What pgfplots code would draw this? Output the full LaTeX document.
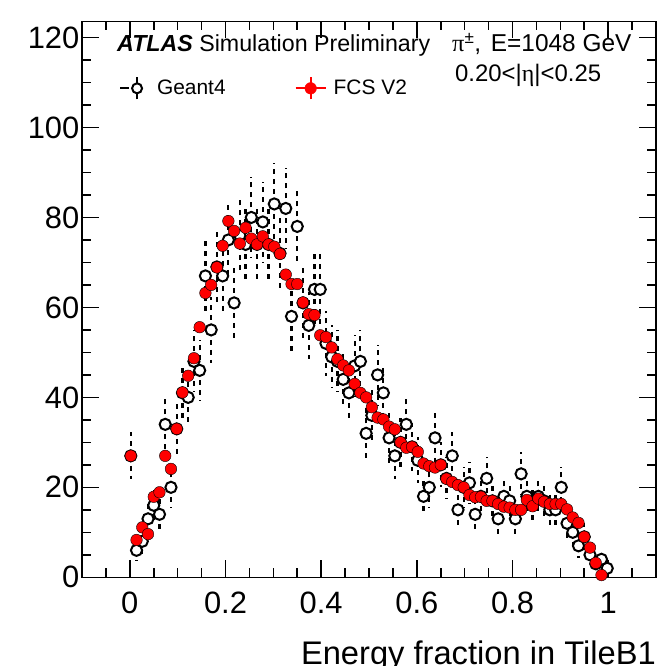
\documentclass[border=0pt]{standalone}
\usepackage{pgfplots}
\usepackage{pgfplotstable}
\pgfplotsset{compat=1.18}
\usepackage{fontspec}
\setmainfont{Liberation Sans}
\newfontfamily\seriffont{Liberation Serif}

\pgfplotstableread{
x y e
0.002 27 5.2
0.014 6 2.4
0.026 8 2.8
0.038 13 3.6
0.050 16 4.0
0.062 14 3.7
0.074 34 5.8
0.086 20 4.5
0.098 33 5.7
0.110 41 6.4
0.122 40 6.3
0.134 48 6.9
0.146 46 6.8
0.158 67 8.2
0.170 55 7.4
0.182 69 8.3
0.194 67 8.2
0.206 75 8.7
0.218 61 7.8
0.230 76 8.7
0.242 74 8.6
0.254 80 8.9
0.266 74 8.6
0.278 79 8.9
0.290 74 8.6
0.302 83 9.1
0.314 72 8.5
0.326 82 9.1
0.338 58 7.6
0.350 78 8.8
0.362 61 7.8
0.374 56 7.5
0.386 64 8.0
0.398 64 8.0
0.410 52 7.2
0.422 49 7.0
0.434 48 6.9
0.446 44 6.6
0.458 41 6.4
0.470 47 6.9
0.482 48 6.9
0.494 32 5.7
0.506 36 6.0
0.518 45 6.7
0.530 41 6.4
0.542 31 5.6
0.554 27 5.2
0.566 30 5.5
0.578 34 5.8
0.590 29 5.4
0.602 26 5.1
0.614 18 4.2
0.626 20 4.5
0.638 31 5.6
0.650 25 5.0
0.662 22 4.7
0.674 27 5.2
0.686 15 3.9
0.698 20 4.5
0.710 21 4.6
0.722 14 3.7
0.734 18 4.2
0.746 22 4.7
0.758 17 4.1
0.770 13 3.6
0.782 18 4.2
0.794 17 4.1
0.806 13 3.6
0.818 23 4.8
0.830 18 4.2
0.842 16 4.0
0.854 18 4.2
0.866 17 4.1
0.878 15 3.9
0.890 15 3.9
0.902 20 4.5
0.914 12 3.5
0.926 10 3.2
0.938 7 2.6
0.950 9 3.0
0.962 5 2.2
0.974 3 1.7
0.986 4 2.0
0.998 2 1.4
}\geant

\pgfplotstableread{
x y
0.002 27
0.014 8.3
0.026 11.1
0.038 9.6
0.050 17.9
0.062 18.9
0.074 27
0.086 24.1
0.098 33
0.110 41.1
0.122 44.8
0.134 48.7
0.146 55.6
0.158 63.2
0.170 65
0.182 68.9
0.194 73.7
0.206 79.2
0.218 77
0.230 74.2
0.242 77.7
0.254 75.3
0.266 74
0.278 75.8
0.290 74
0.302 73.5
0.314 71.9
0.326 67.3
0.338 65.2
0.350 65.2
0.362 61.1
0.374 58.5
0.386 58.3
0.398 53.8
0.410 53.4
0.422 51.1
0.434 48.5
0.446 47.1
0.458 46
0.470 43
0.482 41
0.494 40
0.506 37.8
0.518 35.5
0.530 35.1
0.542 33.5
0.554 32.9
0.566 30
0.578 28.8
0.590 29
0.602 27.9
0.614 25.3
0.626 24.7
0.638 24.4
0.650 25
0.662 21.9
0.674 21.2
0.686 20.5
0.698 20
0.710 18.3
0.722 17.8
0.734 17.9
0.746 17
0.758 17
0.770 16.3
0.782 15.7
0.794 15.5
0.806 15
0.818 15
0.830 17.2
0.842 15.8
0.854 17.5
0.866 16.8
0.878 16.3
0.890 16.3
0.902 16.3
0.914 15.1
0.926 13.3
0.938 12.1
0.950 9
0.962 6.6
0.974 3.2
0.986 0.5
}\fcs

\begin{document}
\begin{tikzpicture}
\begin{axis}[
  at={(82bp,-577.3bp)}, anchor=south west,
  scale only axis, width=574bp, height=556bp,
  xmin=-0.1, xmax=1.1, ymin=0, ymax=123.6,
  xtick={0,0.2,0.4,0.6,0.8,1},
  minor xtick={-0.05,0.05,0.1,0.15,0.25,0.3,0.35,0.45,0.5,0.55,0.65,0.7,0.75,0.85,0.9,0.95,1.05},
  ytick={0,20,40,60,80,100,120},
  minor ytick={5,10,15,25,30,35,45,50,55,65,70,75,85,90,95,105,110,115},
  tick align=inside,
  major tick length=17bp, minor tick length=9bp,
  tick style={line width=1.6bp, black},
  axis line style={line width=1.6bp},
  /pgf/number format/assume math mode=true,
  ticklabel style={font=\fontsize{31}{31}\selectfont, inner sep=0pt},
  xticklabel style={yshift=-14.7bp},
  yticklabel style={xshift=-2.5bp},
  xlabel={Energy fraction in TileB1},
  xlabel style={at={(rel axis cs:1,0)}, anchor=base east, inner sep=0pt, yshift=-87bp, font=\fontsize{32.8}{32.8}\selectfont},
  legend columns=2,
  legend cell align=left,
  legend style={at={(axis description cs:0.059,0.905)}, anchor=north west, draw=none, fill=none,
    font=\fontsize{21}{21}\selectfont, /tikz/every even column/.append style={column sep=67bp}},
]
\addplot[only marks, mark=*, mark size=5.6bp,
  mark options={draw=black, fill=white, line width=2bp, solid},
  legend image code/.code={
    \path[draw=none, fill=none] (0bp,0bp) -- (35bp,0bp);
    \draw[black, line width=2bp] (0bp,0bp) -- (9bp,0bp);
    \draw[black, line width=2bp] (17bp,-11bp) -- (17bp,11bp);
    \draw[black, line width=2bp, fill=white] (17bp,0bp) circle (5bp);
  },
  error bars/.cd, y dir=both, y explicit, error mark=none,
  error bar style={line width=2.2bp, black, dash pattern=on 5bp off 5bp}]
  table[x=x, y=y, y error=e]{\geant};
\addlegendentry{Geant4}
\addplot[only marks, mark=*, mark size=5.8bp, mark options={draw=none, fill=red},
  legend image code/.code={
    \path[draw=none, fill=none] (0bp,0bp) -- (36bp,0bp);
    \draw[red, line width=2bp] (0bp,0bp) -- (30bp,0bp);
    \draw[red, line width=2bp] (15bp,-11bp) -- (15bp,11bp);
    \fill[red] (15bp,0bp) circle (5.8bp);
  }]
  table[x=x, y=y]{\fcs};
\addlegendentry{FCS V2}
\node[anchor=base west, inner sep=0pt, font=\fontsize{23.3}{23.3}\selectfont] at (axis description cs:0.061,0.9448) {\textbf{\textit{ATLAS}} Simulation Preliminary};
\node[anchor=base west, inner sep=0pt, font=\fontsize{24.5}{24.5}\selectfont] at (axis description cs:0.6446,0.9448) {{\seriffont π}\textsuperscript{±},\hspace{3bp} E=1048 GeV};
\node[anchor=base west, inner sep=0pt, font=\fontsize{24}{24}\selectfont] at (axis description cs:0.6498,0.8926) {0.20<|{\seriffont η}|<0.25};
\end{axis}
\pgfresetboundingbox
\path[use as bounding box] (0,0) rectangle (670bp,-666bp);
\end{tikzpicture}
\end{document}
